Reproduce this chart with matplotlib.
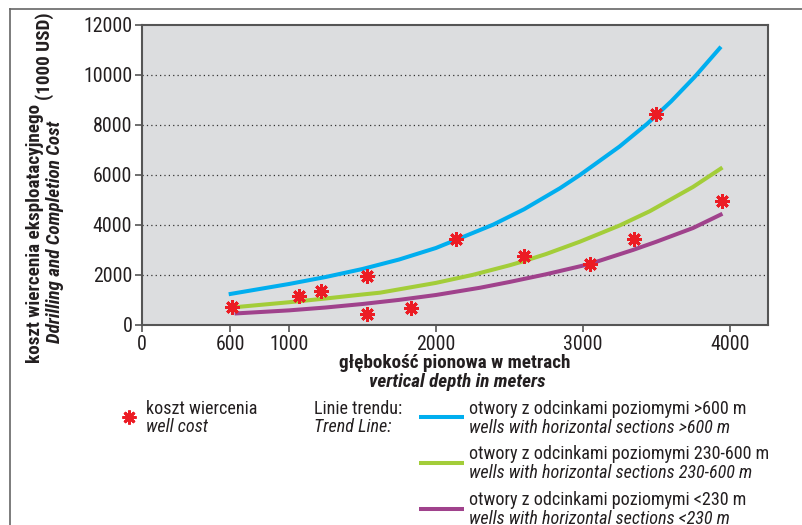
import matplotlib
matplotlib.use("Agg")
import matplotlib.pyplot as plt
from matplotlib.lines import Line2D

plt.rcParams["font.family"] = ["Roboto Condensed", "DejaVu Sans"]

# ---- data ----
well_depth = [610, 1070, 1220, 1530, 1530, 1830, 2140, 2600, 3050, 3350, 3500, 3950]
well_cost = [730, 1150, 1350, 1950, 450, 700, 3450, 2750, 2450, 3450, 8450, 4950]

trend_gt600_depth = [590, 1000, 1250, 1500, 1750, 2000, 2134, 2390, 2600, 2844, 2980, 3250, 3438, 3600, 3762, 3940]
trend_gt600_cost = [1230, 1640, 1920, 2240, 2620, 3080, 3400, 4015, 4630, 5470, 6000, 7140, 8050, 8940, 9930, 11130]

trend_230_600_depth = [610, 1000, 1250, 1500, 1620, 2000, 2250, 2500, 2600, 2750, 2980, 3250, 3456, 3750, 3950]
trend_230_600_cost = [700, 910, 1060, 1220, 1293, 1684, 2004, 2386, 2557, 2839, 3333, 3980, 4553, 5523, 6300]

trend_lt230_depth = [630, 1000, 1250, 1500, 1750, 2000, 2300, 2500, 2750, 3040, 3340, 3500, 3750, 3950]
trend_lt230_cost = [460, 585, 700, 840, 1005, 1200, 1490, 1720, 2030, 2430, 3000, 3330, 3880, 4450]

x_ticks = [0, 600, 1000, 2000, 3000, 4000]
x_tick_labels = ["0", "600", "1000", "2000", "3000", "4000"]
y_ticks = [0, 2000, 4000, 6000, 8000, 10000, 12000]
y_tick_labels = ["0", "2000", "4000", "6000", "8000", "10000", "12000"]

C_BLUE = "#00aeef"
C_GREEN = "#a3cd39"
C_PURPLE = "#a0428c"
C_RED = "#ec1c24"
TXT = "#231f20"

W, H = 803, 525
fig = plt.figure(figsize=(W / 100, H / 100), dpi=100)
ax = fig.add_axes([142 / W, 1 - 325 / H, (768 - 142) / W, (325 - 25) / H])
ax.set_facecolor("#dcdddf")

ax.set_xlim(0, 4260)
ax.set_ylim(0, 12000)
ax.set_xticks(x_ticks)
ax.set_xticklabels(x_tick_labels)
ax.set_yticks(y_ticks)
ax.set_yticklabels(y_tick_labels)
ax.tick_params(labelsize=14.3, length=5, width=1.2, color="#555555", labelcolor=TXT, pad=2)
for s in ax.spines.values():
    s.set_color("#555555")
    s.set_linewidth(1.5)
for yv in y_ticks[1:-1]:
    ax.axhline(yv, color="#333333", lw=0.9, ls=(0, (1, 2.5)), zorder=1)

lw = 2.9
ax.plot(trend_gt600_depth, trend_gt600_cost, color=C_BLUE, lw=lw, zorder=3, solid_capstyle="butt", solid_joinstyle="round")
ax.plot(trend_230_600_depth, trend_230_600_cost, color=C_GREEN, lw=lw, zorder=3, solid_capstyle="butt", solid_joinstyle="round")
ax.plot(trend_lt230_depth, trend_lt230_cost, color=C_PURPLE, lw=lw, zorder=3, solid_capstyle="butt", solid_joinstyle="round")
ax.plot(well_depth, well_cost, ls="none", marker=(8, 2, 0), ms=10.5, mew=2.1, color=C_RED, zorder=4)


def fx(px):
    return px / W


def fy(py):
    return 1 - py / H


# y-axis label
YFS = 13.8
fig.text(fx(35), fy(363), "koszt wiercenia eksploatacyjnego", rotation=90, rotation_mode="anchor",
         ha="left", va="center", fontsize=YFS, fontweight="bold", color=TXT)
fig.text(fx(45), fy(100), "(1000 USD)", rotation=90, rotation_mode="anchor",
         ha="left", va="center", fontsize=YFS, fontweight="bold", color=TXT)
fig.text(fx(55), fy(343), "Ddrilling and Completion Cost", rotation=90, rotation_mode="anchor",
         ha="left", va="center", fontsize=YFS, fontweight="bold", style="italic", color=TXT)

# x-axis label
fig.text(fx(455), fy(363), "głębokość pionowa w metrach", ha="center", va="center",
         fontsize=13.8, fontweight="bold", color=TXT)
fig.text(fx(457), fy(382), "vertical depth in meters", ha="center", va="center",
         fontsize=13.8, fontweight="bold", style="italic", color=TXT)

# legend
fig.add_artist(Line2D([fx(129)], [fy(417)], ls="none", marker=(8, 2, 0), ms=10, mew=2.0, color=C_RED))
LFS = 13.1
fig.text(fx(146.5), fy(409), "koszt wiercenia", ha="left", va="center", fontsize=LFS, color=TXT)
fig.text(fx(146.5), fy(427), "well cost", ha="left", va="center", fontsize=LFS, style="italic", color=TXT)
fig.text(fx(314), fy(409), "Linie trendu:", ha="left", va="center", fontsize=LFS, color=TXT)
fig.text(fx(314), fy(427), "Trend Line:", ha="left", va="center", fontsize=LFS, style="italic", color=TXT)

entries = [
    (C_BLUE, 417, 409, "otwory z odcinkami poziomymi >600 m", "wells with horizontal sections >600 m"),
    (C_GREEN, 463, 454, "otwory z odcinkami poziomymi 230-600 m", "wells with horizontal sections 230-600 m"),
    (C_PURPLE, 509, 500, "otwory z odcinkami poziomymi <230 m", "wells with horizontal sections <230 m"),
]
for col, ly, ty, t1, t2 in entries:
    fig.add_artist(Line2D([fx(419), fx(464)], [fy(ly), fy(ly)], color=col, lw=2.9, solid_capstyle="butt"))
    fig.text(fx(469), fy(ty), t1, ha="left", va="center", fontsize=LFS, color=TXT)
    fig.text(fx(469), fy(ty + 19), t2, ha="left", va="center", fontsize=LFS, style="italic", color=TXT)

# outer frame lines
fig.add_artist(Line2D([fx(10), fx(803)], [fy(9), fy(9)], color="#666666", lw=1.2))
fig.add_artist(Line2D([fx(10), fx(10)], [fy(9), fy(525)], color="#666666", lw=1.2))

fig.savefig("out.png", dpi=100)
